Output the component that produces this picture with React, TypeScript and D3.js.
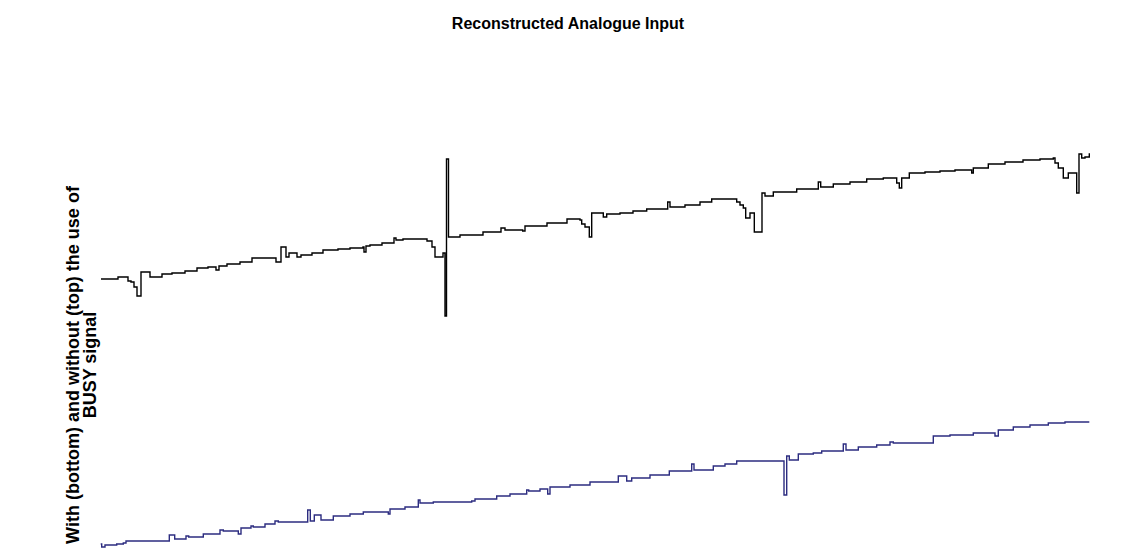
import React, { useEffect, useRef } from "react";
import * as d3 from "d3";

// step traces, sample index vs reconstructed level (arbitrary units)
const topSamples = [
  1, 18, 28, 31, 34, 37, 41, 50, 62, 72, 85, 97, 108, 116, 119, 127, 140, 152,
  176, 181, 186, 189, 197, 201, 212, 223, 238, 250, 263, 264, 266, 270, 282,
  294, 296, 303, 327, 332, 335, 343, 345, 346.5, 348.5, 360, 383, 401, 405,
  422.7, 425, 447, 467, 480, 481.7, 485, 489.3, 491.7, 503.3, 506.7, 520, 533,
  546.7, 567.7, 570, 585, 600, 611.7, 635, 636.7, 640, 643.3, 645.7, 650, 654.3,
  662, 665, 673.3, 696.7, 718.3, 720.7, 733.3, 750, 766.7, 783.3, 796.7, 799.3,
  801.7, 809.3, 825, 840, 855, 871.7, 873.3, 888.3, 905, 923, 940, 953.3, 955,
  958.3, 963.3, 968.3, 976.7, 979, 981.7, 985, 989.3, 990,
];
const topValues = [
  281, 283, 279, 278, 273, 264, 288, 283, 286, 287, 289, 292, 293, 290, 294,
  296, 298, 302, 298, 313, 303, 307, 303, 305, 307, 310, 311, 312, 313, 308,
  314, 315, 317, 322, 320, 321, 319, 313, 303, 307, 244, 401, 323, 325, 328,
  332, 330, 329, 334, 337, 341, 340, 336, 333, 323, 347, 343, 346, 347, 349,
  351, 358, 353, 355, 358, 361, 361, 358, 355, 352, 342, 347, 328, 367, 364,
  368, 371, 378, 373, 376, 378, 381, 382, 377, 372, 382, 387, 388, 389, 390,
  387, 392, 396, 398, 400, 401, 402, 397, 392, 382, 387, 367, 406, 402, 403,
  406, 406,
];

const bottomSamples = [
  0.7, 1.7, 5, 16.7, 23.3, 26, 69.3, 74.7, 86, 88.7, 103.3, 120, 123.3, 138.3,
  141, 151, 153.3, 165, 175, 178.3, 207.7, 210.3, 214.3, 221, 233.3, 250, 263.3,
  288.3, 290, 305, 318.3, 320, 333.3, 371.7, 375, 380, 396.7, 410, 426.7, 428.7,
  440, 447.7, 450, 470, 490, 518.3, 526.7, 531.7, 550, 569.3, 591.7, 594, 613.3,
  625, 636.7, 684, 686.7, 689.3, 698.3, 713.3, 721.7, 743.3, 746, 758.3, 776.7,
  790, 793.3, 833.3, 850, 873.3, 895, 898.3, 913.3, 930, 948.3, 965, 989.3,
];
const bottomValues = [
  16, 13, 15, 16, 17, 19, 25, 21, 24, 23, 26, 30, 29, 26, 32, 34, 33, 36, 39,
  38, 50, 39, 45, 40, 44, 46, 48, 46, 51, 53, 60, 57, 58, 59, 61, 61, 64, 66,
  70, 69, 71, 66, 73, 75, 78, 84, 79, 82, 85, 89, 96, 90, 94, 96, 99, 65, 104,
  100, 106, 107, 109, 116, 110, 113, 115, 118, 117, 124, 125, 127, 124, 130,
  133, 135, 137, 138, 138,
];

const title = "Reconstructed Analogue Input";
const yLabel = ["With (bottom) and without (top) the use of", "BUSY signal"];

const width = 1136;
const height = 553;

const App = () => {
  const svgRef = useRef(null);

  useEffect(() => {
    const svg = d3.select(svgRef.current);
    svg.selectAll("*").remove();

    const x = d3.scaleLinear().domain([0, 1000]).range([100, 1100]);
    const y = d3.scaleLinear().domain([0, 400]).range([560, 160]);

    const line = d3
      .line<[number, number]>()
      .x((d) => x(d[0]))
      .y((d) => y(d[1]))
      .curve(d3.curveStepAfter);

    const topData = topSamples.map((s, i) => [s, topValues[i]] as [number, number]);
    const bottomData = bottomSamples.map(
      (s, i) => [s, bottomValues[i]] as [number, number]
    );

    svg
      .append("path")
      .datum(topData)
      .attr("d", line)
      .attr("fill", "none")
      .attr("stroke", "#000")
      .attr("stroke-width", 1.4);

    svg
      .append("path")
      .datum(bottomData)
      .attr("d", line)
      .attr("fill", "none")
      .attr("stroke", "#2c2c80")
      .attr("stroke-width", 1.4);

    svg
      .append("text")
      .attr("x", 568)
      .attr("y", 29)
      .attr("text-anchor", "middle")
      .attr("font-family", "Liberation Sans, Arial, sans-serif")
      .attr("font-weight", "bold")
      .attr("font-size", 16)
      .text(title);

    const lab = svg
      .append("g")
      .attr("transform", "translate(79,365) rotate(-90)")
      .attr("font-family", "Liberation Sans, Arial, sans-serif")
      .attr("font-weight", "bold")
      .attr("font-size", 18)
      .attr("text-anchor", "middle");
    yLabel.forEach((t, i) => {
      lab.append("text").attr("x", 0).attr("y", i * 17).text(t);
    });
  }, []);

  return (
    <svg
      ref={svgRef}
      width={width}
      height={height}
      style={{ position: "absolute", left: 0, top: 0, background: "#fff" }}
    />
  );
};

export default App;
